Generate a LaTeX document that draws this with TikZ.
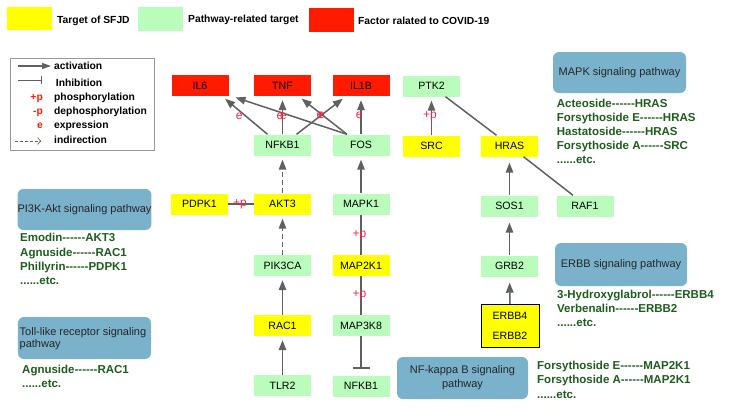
\documentclass[tikz,border=0pt]{standalone}
\usepackage{fontspec}
\setmainfont{Liberation Sans}
\usetikzlibrary{arrows.meta}
\definecolor{yel}{HTML}{FFFF00}
\definecolor{grn}{HTML}{B9FCBB}
\definecolor{redc}{HTML}{FF1A00}
\definecolor{pwblue}{HTML}{79B2CA}
\definecolor{dgreen}{HTML}{1E5C1E}
\definecolor{edgec}{HTML}{606060}
\definecolor{labc}{HTML}{F52645}
\newcommand\hy{\mbox{-}}
\newcommand\hsix{\hy\hy\hy\hy\hy\hy}
\begin{document}
\begin{tikzpicture}[x=1bp,y=-1bp,
  gene/.style={minimum width=57bp, minimum height=21bp, inner sep=0pt, text height=7.6bp, text depth=0bp, font=\fontsize{10.6bp}{12bp}\selectfont},
  tg/.style={gene, fill=yel},
  pw/.style={gene, fill=grn},
  cv/.style={gene, fill=redc},
  act/.style={draw=edgec, line width=1.5bp, -{Triangle[length=10bp,width=7.5bp]}, shorten >=4bp},
  plainl/.style={draw=edgec, line width=1.5bp},
  lbl/.style={text=labc, font=\fontsize{12bp}{12bp}\selectfont, inner sep=0pt},
  pbox/.style={fill=pwblue, rounded corners=6bp, draw=none, inner sep=0pt, font=\fontsize{11bp}{14bp}\selectfont, text=black!85, align=center},
  gtext/.style={font=\bfseries\fontsize{11.5bp}{14bp}\selectfont, text=dgreen, anchor=base west, inner sep=0pt},
  legt/.style={font=\bfseries\fontsize{10.3bp}{12bp}\selectfont, anchor=base west, inner sep=0pt},
  legr/.style={font=\bfseries\fontsize{10.3bp}{12bp}\selectfont, anchor=base east, inner sep=0pt, text=redc},
]
\useasboundingbox (0,0) rectangle (729,408);

% top legend
\node[fill=yel, minimum width=44.5bp, minimum height=23bp, inner sep=0pt] (ky) at (29.5,18.5) {};
\node[legt] (kyt) at (57,23.7) {Target of SFJD};
\node[fill=grn, minimum width=45bp, minimum height=23.4bp, inner sep=0pt] (kg) at (160.5,19) {};
\node[legt] (kgt) at (188,22) {Pathway-related target};
\node[fill=redc, minimum width=45bp, minimum height=23.4bp, inner sep=0pt] (kr) at (331.5,20) {};
\node[legt] (krt) at (358,24.7) {Factor ralated to COVID-19};

% line-type legend
\node[draw=black!40, line width=0.8bp, minimum width=144bp, minimum height=92bp, inner sep=0pt] (legbox) at (82.8,104.2) {};
\coordinate (la1) at (18,66); \coordinate (la2) at (51,66);
\draw[act, line width=1.2bp, -{Triangle[length=9bp,width=6bp]}, shorten >=0bp] (la1) -- (la2);
\coordinate (li1) at (18,80); \coordinate (li2) at (42,80);
\draw[plainl, line width=1bp, -{Bar[width=8bp]}] (li1) -- (li2);
\coordinate (ld1) at (15,141); \coordinate (ld2) at (41,141);
\draw[draw=edgec, line width=0.7bp, dashed, dash pattern=on 3bp off 2bp, -{Straight Barb[length=3bp,width=7bp]}] (ld1) -- (ld2);
\node[legt] (lt1) at (54,69.4) {activation};
\node[legt] (lt2) at (55.7,86) {Inhibition};
\node[legt] (lt3) at (54,100) {phosphorylation};
\node[legt] (lt4) at (54,114.7) {dephosphorylation};
\node[legt] (lt5) at (54,128.7) {expression};
\node[legt] (lt6) at (54,143.7) {indirection};
\node[legr] (lr3) at (43,100) {+p};
\node[legr] (lr4) at (43,114.7) {-p};
\node[legr] (lr5) at (43,128.7) {e};

% genes
\node[cv] (IL6) at (200,85.5) {IL6};
\node[cv] (TNF) at (282.5,85.5) {TNF};
\node[cv] (IL1B) at (361,85.5) {IL1B};
\node[pw] (PTK2) at (431.5,86) {PTK2};
\node[pw] (NFKB1) at (282.5,145) {NFKB1};
\node[pw] (FOS) at (361,145) {FOS};
\node[tg] (SRC) at (431.5,146) {SRC};
\node[tg] (HRAS) at (509.5,146) {HRAS};
\node[tg] (PDPK1) at (199.5,204) {PDPK1};
\node[tg] (AKT3) at (282.5,204) {AKT3};
\node[pw] (MAPK1) at (361,204) {MAPK1};
\node[pw] (SOS1) at (509.5,206) {SOS1};
\node[pw] (RAF1) at (585,206) {RAF1};
\node[pw] (PIK3CA) at (282.5,265.5) {PIK3CA};
\node[tg] (MAP2K1) at (361,265.5) {MAP2K1};
\node[pw] (GRB2) at (509.5,266) {GRB2};
\node[tg] (RAC1) at (282.5,325.5) {RAC1};
\node[pw] (MAP3K8) at (361,325.5) {MAP3K8};
\node[tg, draw=black, line width=1bp, minimum width=58bp, minimum height=43.5bp, align=center, text height=, text depth=, font=\fontsize{10.6bp}{20.5bp}\selectfont] (ERBB) at (510,326) {ERBB4\\ERBB2};
\node[pw] (TLR2) at (282.5,385.5) {TLR2};
\node[pw] (NFKB1b) at (361,386) {NFKB1};

% expression edges
\draw[act] ([xshift=-15bp]NFKB1.north) -- ([xshift=22bp]IL6.south);
\draw[act] ([xshift=-14bp]FOS.north) -- ([xshift=3bp]IL6.south east);
\draw[act] (NFKB1.north) -- (TNF.south);
\draw[act] ([xshift=14bp]NFKB1.north) -- ([xshift=-15bp]IL1B.south);
\draw[act] ([xshift=-14bp]FOS.north) -- ([xshift=16bp]TNF.south);
\draw[act] (FOS.north) -- (IL1B.south);
\node[lbl] (e1) at (239.3,116) {e};
\node[lbl] (e2) at (280,116) {e};
\node[lbl] (e3) at (283.5,116) {e};
\node[lbl] (e4) at (320,115.5) {e};
\node[lbl] (e5) at (321.5,115.5) {e};
\node[lbl] (e6) at (359.3,115.5) {e};

% signalling edges
\draw[act, dashed, dash pattern=on 5bp off 3bp] (AKT3.north) -- (NFKB1.south);
\draw[act] (MAPK1.north) -- (FOS.south);
\draw[act, dashed, dash pattern=on 5bp off 3bp] (PIK3CA.north) -- (AKT3.south);
\draw[act] (RAC1.north) -- (PIK3CA.south);
\draw[act] (TLR2.north) -- (RAC1.south);
\draw[plainl] (PDPK1.east) -- (AKT3.west);
\node[lbl] (p1) at (240,204.5) {+p};
\draw[plainl] (MAP2K1.north) -- (MAPK1.south);
\node[lbl] (p2) at (359.5,235.5) {+p};
\draw[plainl] (MAP3K8.north) -- (MAP2K1.south);
\node[lbl] (p3) at (359.5,295.5) {+p};
\draw[plainl, -{Bar[width=17bp]}, shorten >=6.5bp] (MAP3K8.south) -- (NFKB1b.north);
\draw[act] (SRC.north) -- (PTK2.south);
\node[lbl] (p4) at (430,116.5) {+p};
\draw[plainl] ([xshift=14bp]PTK2.south) -- ([xshift=-13bp]HRAS.north);
\draw[plainl] ([xshift=14bp]HRAS.south) -- ([xshift=-12bp]RAF1.north);
\draw[act, shorten >=6bp] (SOS1.north) -- (HRAS.south);
\draw[act, shorten >=6bp] (GRB2.north) -- (SOS1.south);
\draw[act, shorten >=6bp] (ERBB.north) -- (GRB2.south);

% pathway boxes
\node[pbox, minimum width=133bp, minimum height=41bp] (mapk) at (619.5,72.5) {MAPK signaling pathway};
\node[pbox, minimum width=133bp, minimum height=41bp] (pi3k) at (84.5,209.5) {PI3K-Akt signaling pathway};
\node[pbox, minimum width=133bp, minimum height=42bp] (toll) at (84.5,338) {};
\node[font=\fontsize{11bp}{12bp}\selectfont, text=black!85, align=left, anchor=west, inner sep=0pt] (tollt) at (19.5,339) {Toll-like receptor signaling\\pathway};
\node[pbox, minimum width=132bp, minimum height=43bp] (erbb) at (621,264.5) {ERBB signaling pathway};
\node[pbox, minimum width=131bp, minimum height=42bp] (nfkb) at (462.5,378) {NF-kappa B signaling\\pathway};

% compound lists
\node[gtext] (m1) at (556.7,107.5) {Acteoside\hsix HRAS};
\node[gtext] (m2) at (556.7,121.3) {Forsythoside E\hsix HRAS};
\node[gtext] (m3) at (556.7,135.2) {Hastatoside\hsix HRAS};
\node[gtext] (m4) at (556.7,149.1) {Forsythoside A\hsix SRC};
\node[gtext] (m5) at (556.7,163) {......etc.};

\node[gtext] (a1) at (20,241.8) {Emodin\hsix AKT3};
\node[gtext] (a2) at (20,256) {Agnuside\hsix RAC1};
\node[gtext] (a3) at (20,270.2) {Phillyrin\hsix PDPK1};
\node[gtext] (a4) at (20,284.4) {......etc.};

\node[gtext] (t1) at (22,373.2) {Agnuside\hsix RAC1};
\node[gtext] (t2) at (22,387.4) {......etc.};

\node[gtext] (b1) at (557,298.2) {3-Hydroxyglabrol\hsix ERBB4};
\node[gtext] (b2) at (557,312.4) {Verbenalin\hsix ERBB2};
\node[gtext] (b3) at (557,326.6) {......etc.};

\node[gtext] (n1) at (537,369.2) {Forsythoside E\hsix MAP2K1};
\node[gtext] (n2) at (537,383.7) {Forsythoside A\hsix MAP2K1};
\node[gtext] (n3) at (537,398) {......etc.};
\end{tikzpicture}
\end{document}
